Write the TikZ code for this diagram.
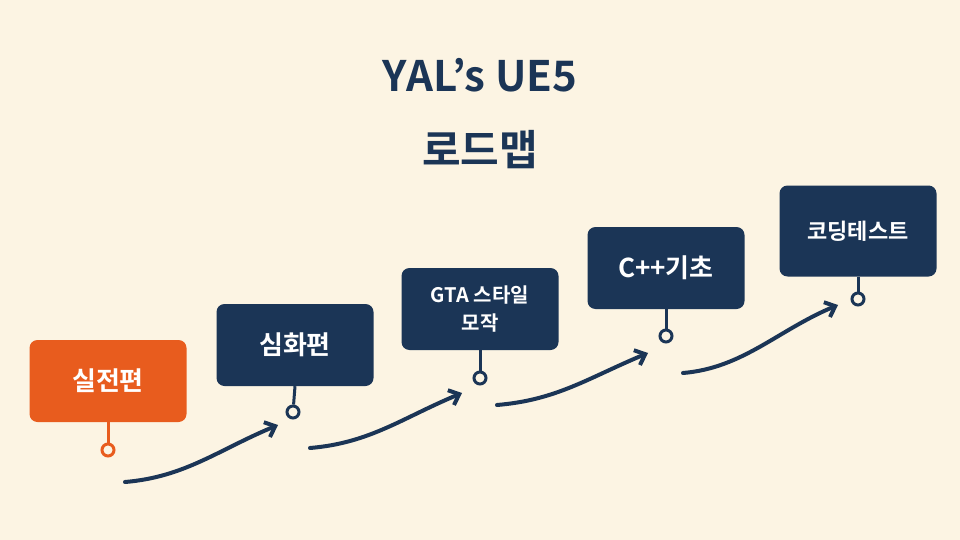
\documentclass[tikz,border=0pt]{standalone}
\usepackage{fontspec}
\setmainfont{Noto Sans CJK KR}[BoldFont={Noto Sans CJK KR Bold}]
\usetikzlibrary{arrows.meta,calc}
\definecolor{cream}{HTML}{FCF4E3}
\definecolor{navy}{HTML}{1B3556}
\definecolor{rust}{HTML}{E85C1E}

\begin{document}
\begin{tikzpicture}[x=1pt,y=-1pt,
  stepbox/.style={rounded corners=8pt, minimum width=157pt, minimum height=82pt,
    text=white, font=\bfseries\fontsize{26}{30}\selectfont, align=center, inner sep=0pt},
  pin/.style={circle, draw, line width=3pt, fill=cream, minimum size=12pt, inner sep=0pt},
  flow/.style={navy, line width=4pt, line cap=round, -{Straight Barb[length=9pt,width=16pt,line width=4pt]}}]
  \fill[cream] (0,0) rectangle (960,540);
  \node[navy, font=\bfseries\fontsize{42}{50}\selectfont] (title) at (480,75) {YAL's UE5};
  \node[navy, font=\bfseries\fontsize{42}{50}\selectfont] (title2) at (480,150) {로드맵};
  % boxes
  \node[stepbox, fill=rust] (a) at (108,381) {실전편};
  \node[stepbox, fill=navy] (b) at (295,345) {심화편};
  \node[stepbox, fill=navy, font=\bfseries\fontsize{20}{28}\selectfont] (c) at (480,309) {GTA 스타일\\모작};
  \node[stepbox, fill=navy] (d) at (666,268) {C++기초};
  \node[stepbox, fill=navy, minimum height=91pt, font=\bfseries\fontsize{22}{28}\selectfont] (e) at (858,231) {코딩테스트};
  % pins
  \node[pin, draw=rust] (pa) at (108,450) {};
  \node[pin, draw=navy] (pb) at (293,412) {};
  \node[pin, draw=navy] (pc) at (480,378) {};
  \node[pin, draw=navy] (pd) at (666,336) {};
  \node[pin, draw=navy] (pe) at (858,299) {};
  \draw[rust, line width=3pt] (a.south) -- (pa);
  \foreach \s/\p in {b/pb,c/pc,d/pd,e/pe}
    \draw[navy, line width=3pt] (\s.south) -- (\p);
  % arrows
  \coordinate (s1) at (125,482); \coordinate (t1) at (278,425);
  \coordinate (s2) at (310,448); \coordinate (t2) at (462,393);
  \coordinate (s3) at (497,405); \coordinate (t3) at (648,353);
  \coordinate (s4) at (683,373); \coordinate (t4) at (838,305);
  \foreach \i in {1,...,4}
    \draw[flow] (s\i) .. controls ($(s\i)+(60,-5)$) and ($(t\i)+(-60,25)$) .. (t\i);
\end{tikzpicture}
\end{document}
